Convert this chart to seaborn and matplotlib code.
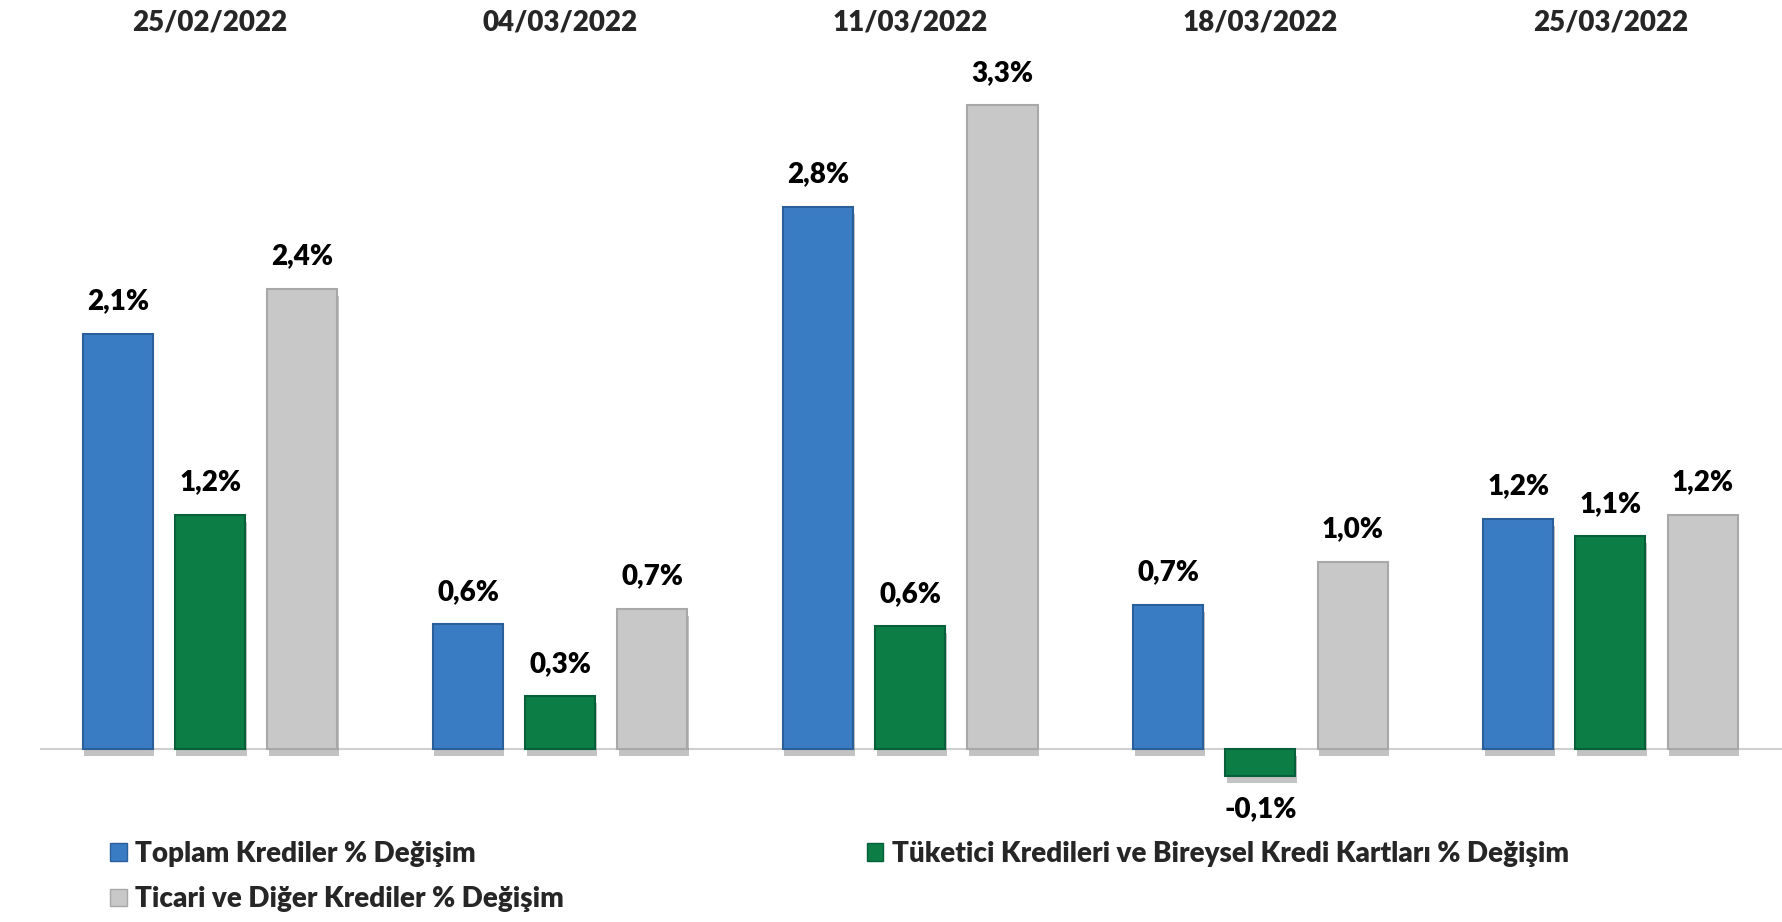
import pandas as pd
import seaborn as sns
import matplotlib.pyplot as plt
import matplotlib.patheffects as pe
from matplotlib.patches import Patch
from matplotlib.transforms import blended_transform_factory

# values (percent change)
dates = ['25/02/2022', '04/03/2022', '11/03/2022', '18/03/2022', '25/03/2022']
series = ['Toplam Krediler % Değişim',
          'Tüketici Kredileri ve Bireysel Kredi Kartları % Değişim',
          'Ticari ve Diğer Krediler % Değişim']
toplam = [2.13, 0.64, 2.78, 0.74, 1.18]
tuketici = [1.20, 0.27, 0.63, -0.14, 1.09]
ticari = [2.36, 0.72, 3.30, 0.96, 1.20]
colors = ['#3a7cc4', '#0b7d45', '#c8c8c8']
edges = ['#2a5f9a', '#07603a', '#a8a8a8']

rows = []
for name, vals in zip(series, [toplam, tuketici, ticari]):
    for d, v in zip(dates, vals):
        rows.append({'date': d, 'series': name, 'value': v})
df = pd.DataFrame(rows)

sns.set_style('white')
plt.rcParams['font.family'] = ['Lato', 'DejaVu Sans']
plt.rcParams['font.weight'] = 'heavy'
FS = 20

fig = plt.figure(figsize=(17.82, 9.22), dpi=100)
# axes spans x from 40px to right edge, y from 60px to 800px
ax = fig.add_axes([40 / 1782, 1 - 800 / 922, 1 - 40 / 1782, 740 / 922])

sns.barplot(data=df, x='date', y='value', hue='series', order=dates,
            hue_order=series, palette=colors, saturation=1, width=0.79,
            gap=0.24, legend=False, ax=ax)

# darker edge + soft drop shadow under every bar
for cont, ec in zip(ax.containers, edges):
    for bar in cont:
        bar.set_edgecolor(ec)
        bar.set_linewidth(1.5)
        bar.set_path_effects([pe.SimplePatchShadow(offset=(1, -5), alpha=0.35,
                                                   shadow_rgbFace='#555555'),
                              pe.Normal()])
    ax.bar_label(cont, labels=[f'{b.get_height():.1f}%'.replace('.', ',') for b in cont],
                 padding=14, fontsize=FS, fontweight='heavy', color='black')

ax.axhline(0, color='#d0d0d0', lw=1.5, zorder=0)
ax.set_xlim(-0.486, 4.49)
ax.set_ylim(-0.2615, 3.533)
ax.set_xlabel('')
ax.set_ylabel('')
ax.set_xticks([])
ax.set_yticks([])
sns.despine(ax=ax, left=True, bottom=True)

# dates across the top
trans = blended_transform_factory(ax.transData, fig.transFigure)
for i, d in enumerate(dates):
    ax.text(i, 1 - 22 / 922, d, transform=trans, ha='center', va='center',
            fontsize=FS, fontweight='heavy')

# legend: Toplam / Tüketici on the first row, Ticari on the second
handles = [Patch(facecolor=c, edgecolor=e) for c, e in zip(colors, edges)]
order = [0, 2, 1]
fig.legend([handles[i] for i in order], [series[i] for i in order],
           ncol=2, loc='upper left', bbox_to_anchor=(85 / 1782, 1 - 816 / 922),
           frameon=False, fontsize=FS, handlelength=0.6, handleheight=0.6,
           handletextpad=0.3, columnspacing=10.9, labelspacing=0.69)

fig.savefig('out.png', dpi=100)
